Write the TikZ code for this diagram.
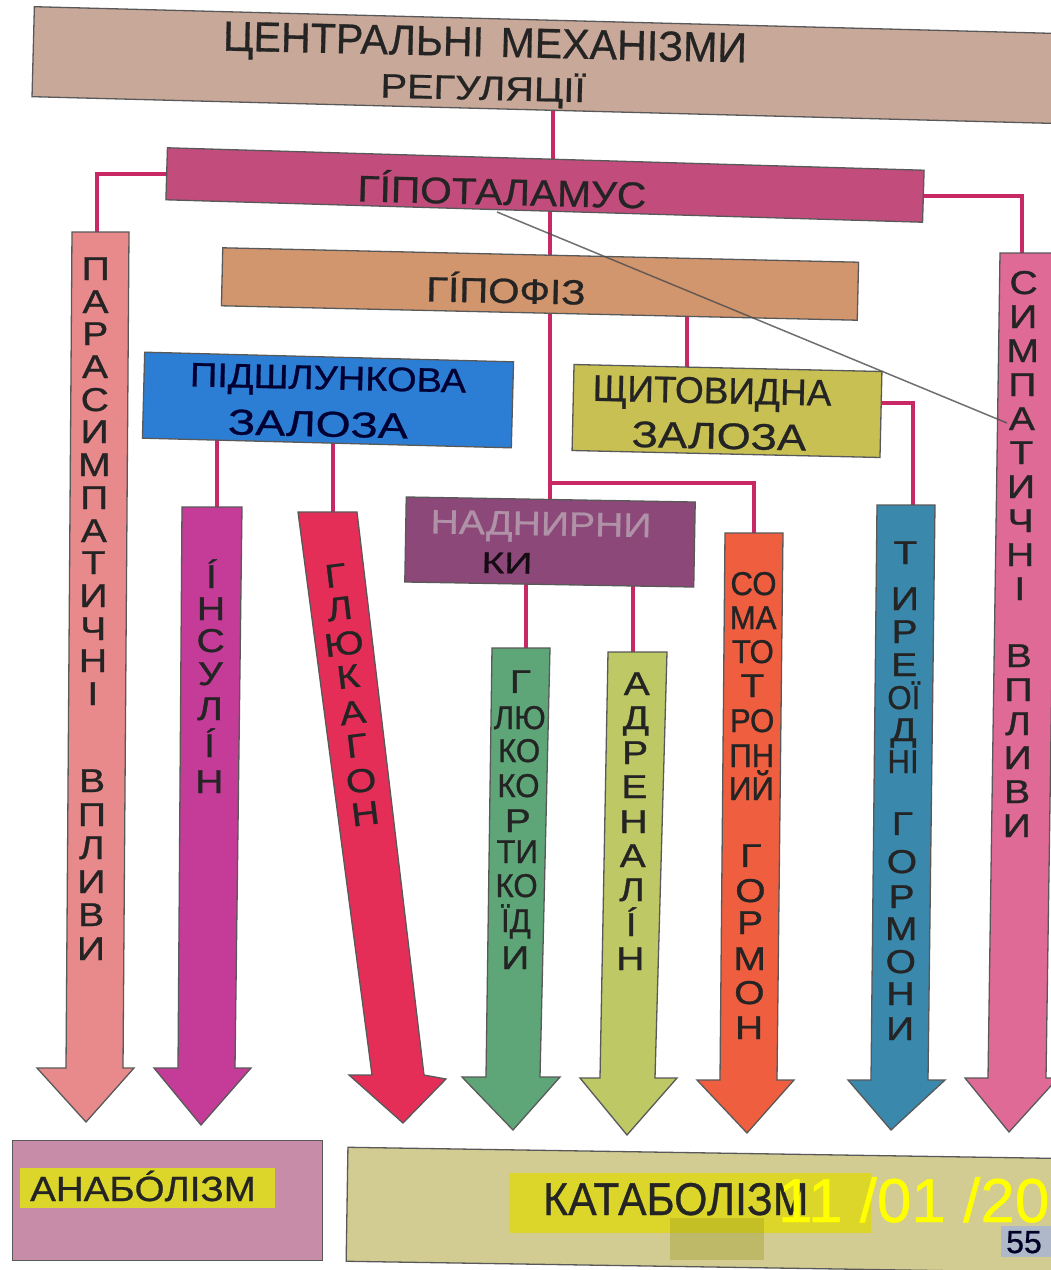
\documentclass[tikz,border=0pt]{standalone}
\usepackage{fontspec}
\usepackage{graphicx}
\setmainfont{Liberation Sans}[FakeBold=0.7]
\newfontfamily\lf{Liberation Sans}[FakeBold=0.9]
\pgfdeclarelayer{bg}
\pgfdeclarelayer{lines}
\pgfsetlayers{bg,lines,main}
\newcommand\sx[2]{\scalebox{#1}[1]{#2}}
\newcommand\pr[1]{\scalebox{0.8}[1]{#1}}
\definecolor{ink}{HTML}{242424}
\definecolor{topc}{HTML}{C8A898}
\definecolor{hypc}{HTML}{C24C7C}
\definecolor{hypoc}{HTML}{D2966E}
\definecolor{pancc}{HTML}{2B7ED4}
\definecolor{thygc}{HTML}{C8C052}
\definecolor{adrc}{HTML}{8C4878}
\definecolor{parac}{HTML}{E88A8C}
\definecolor{insc}{HTML}{C43C98}
\definecolor{glucc}{HTML}{E42E58}
\definecolor{gcc}{HTML}{5EA678}
\definecolor{adrac}{HTML}{BEC864}
\definecolor{somac}{HTML}{F05E40}
\definecolor{thyhc}{HTML}{3A88AC}
\definecolor{sympc}{HTML}{E06A96}
\definecolor{anabc}{HTML}{C68CA8}
\definecolor{catc}{HTML}{D2CC92}
\definecolor{conncol}{HTML}{C82864}
\definecolor{hlc}{HTML}{DCD62A}
\definecolor{datec}{HTML}{FFFF00}
\definecolor{tagc}{HTML}{AEB8C8}
\begin{document}
\begin{tikzpicture}[x=1pt,y=-1pt,
  box/.style={draw=black!65, line width=1.3pt, inner sep=0pt},
  conn/.style={draw=conncol, line width=4pt},
  arr/.style={draw=black!65, line width=1.3pt, line join=miter},
  lt/.style={font=\lf\fontsize{33}{33}\selectfont, inner sep=0pt, text height=24pt, text depth=0pt, text=ink},
  lab/.style={inner sep=0pt, text=ink},
  stray/.style={draw=black!70, line width=1.5pt, opacity=0.8}]
\useasboundingbox (0,0) rectangle (1051,1270);
\begin{pgfonlayer}{bg}
  \fill[white] (0,0) rectangle (1051,1270);
\end{pgfonlayer}

% ---------- boxes ----------
\node[box, fill=topc, minimum width=1056, minimum height=90, rotate=-1.5] (top) at (561,65.5) {};
\node[lab, rotate=-1.3, font=\fontsize{42}{42}\selectfont] (t1) at (485,46) {\sx{0.98}{ЦЕНТРАЛЬНІ\hspace{0.4em}МЕХАНІЗМИ}};
\node[lab, rotate=-1.3, font=\fontsize{34}{34}\selectfont] (t2) at (483,89) {\sx{1.17}{РЕГУЛЯЦІЇ}};

\node[box, fill=hypc, minimum width=757, minimum height=52, rotate=-1.7] (hyp) at (545,185) {};
\node[lab, rotate=-1.4, font=\fontsize{37}{37}\selectfont] (hypt) at (502,189) {\sx{1.1}{ГÍПОТАЛАМУС}};

\node[box, fill=hypoc, minimum width=636, minimum height=58, rotate=-1.3] (hypo) at (540,284) {};
\node[lab, rotate=-1.2, font=\fontsize{35}{35}\selectfont] (hypot) at (506,288) {\sx{1.15}{ГÍПОФІЗ}};

\node[box, fill=pancc, minimum width=369, minimum height=86, rotate=-1.5] (panc) at (328,400) {};
\node[lab, text=black!80!blue, rotate=-1.3, font=\fontsize{34}{34}\selectfont] (panct1) at (328,381) {\sx{1.12}{ПІДШЛУНКОВА}};
\node[lab, text=black!80!blue, rotate=-1.3, font=\fontsize{36}{36}\selectfont] (panct2) at (318,424) {\sx{1.25}{ЗАЛОЗА}};

\node[box, fill=thygc, minimum width=308, minimum height=86, rotate=-1.3] (thyg) at (727,411) {};
\node[lab, rotate=-1.2, font=\fontsize{37}{37}\selectfont] (thygt1) at (712,394) {\sx{1.0}{ЩИТОВИДНА}};
\node[lab, rotate=-1.2, font=\fontsize{37}{37}\selectfont] (thygt2) at (719,436) {\sx{1.18}{ЗАЛОЗА}};

\node[box, fill=adrc, minimum width=289, minimum height=85, rotate=-1] (adrb) at (550,542) {};
\node[lab, text=black!20!adrc!55!white, rotate=-1, font=\fontsize{34}{34}\selectfont] (adrt1) at (541,527) {\sx{1.15}{НАДНИРНИ}};
\node[lab, text=black!85!adrc, rotate=-1, font=\fontsize{30}{30}\selectfont] (adrt2) at (507,563) {\sx{1.3}{КИ}};

% ---------- arrows ----------
\filldraw[arr, fill=parac] (72,232) -- (129,232) -- (123,1068) -- (134,1068) -- (86,1122) -- (37,1068) -- (66,1068) -- cycle;
\filldraw[arr, fill=insc] (182,507) -- (242,507) -- (235,1068) -- (251,1068) -- (201,1125) -- (154,1068) -- (178,1068) -- cycle;
\filldraw[arr, fill=glucc] (298,512) -- (357,512) -- (424,1075) -- (446,1079) -- (403,1123) -- (349,1075) -- (372,1075) -- cycle;
\filldraw[arr, fill=gcc] (492,648) -- (550,648) -- (540,1077) -- (560,1077) -- (513,1130) -- (462,1077) -- (486,1077) -- cycle;
\filldraw[arr, fill=adrac] (608,652) -- (667,652) -- (655,1078) -- (677,1078) -- (627,1135) -- (580,1078) -- (600,1078) -- cycle;
\filldraw[arr, fill=somac] (725,533) -- (783,533) -- (777,1080) -- (794,1080) -- (747,1133) -- (697,1080) -- (720,1080) -- cycle;
\filldraw[arr, fill=thyhc] (877,505) -- (935,505) -- (928,1080) -- (945,1080) -- (891,1130) -- (848,1080) -- (871,1080) -- cycle;
\filldraw[arr, fill=sympc] (1000,253) -- (1058,253) -- (1046,1078) -- (1058,1078) -- (1009,1132) -- (965,1078) -- (988,1078) -- cycle;

\coordinate (paraT) at (97,238);
\coordinate (sympT) at (1022,259);
\coordinate (insT) at (217,512);
\coordinate (glucT) at (333,517);
\coordinate (gcT) at (526,653);
\coordinate (adrT) at (633,657);
\coordinate (somaT) at (754,538);
\coordinate (thyhT) at (913,510);
\coordinate (x553) at (553,0);
\coordinate (x550) at (550,0);
\coordinate (x687) at (687,0);
\coordinate (jn) at (550,483);
\coordinate (thygR) at (860,403);

% ---------- connectors ----------
\begin{pgfonlayer}{lines}
  \draw[conn] (x553 |- top.center) -- (x553 |- hyp.center);
  \draw[conn] ([xshift=20]hyp.west) -| (paraT);
  \draw[conn] ([xshift=-20]hyp.east) -| (sympT);
  \draw[conn] (x550 |- hyp.center) -- (x550 |- hypo.center);
  \draw[conn] (x550 |- hypo.center) -- (x550 |- adrb.center);
  \draw[conn] (jn) -| (somaT);
  \draw[conn] (x687 |- hypo.center) -- (x687 |- thyg.center);
  \draw[conn] (thygR) -| (thyhT);
  \draw[conn] (insT |- panc.center) -- (insT);
  \draw[conn] (glucT |- panc.center) -- (glucT);
  \draw[conn] (gcT |- adrb.center) -- (gcT);
  \draw[conn] (adrT |- adrb.center) -- (adrT);
\end{pgfonlayer}

% ---------- stray line ----------
\draw[stray] (497,212) -- (1007,423);

% ---------- column letters ----------
\foreach \t/\yy [count=\i] in {П/268,А/301,Р/333,А/366,С/399,И/431,М/464,П/497,А/530,Т/562,И/595,Ч/628,Н/660,І/693,В/780,П/814,Л/847,И/881,В/914,И/948}
  {\pgfmathsetmacro\xx{96-0.007*(\yy-232)}\node[lt] (pa\i) at (\xx,\yy) {\sx{1.18}{\t}};}
\foreach \t/\yy [count=\i] in {Í/576,Н/608,С/640,У/673,Л/708,Í/745,Н/781}
  {\pgfmathsetmacro\xx{212-0.0098*(\yy-507)}\node[lt] (in\i) at (\xx,\yy) {\sx{1.18}{\t}};}
\foreach \t/\yy [count=\i] in {Г/575,Л/608,Ю/643,К/676,А/712,Г/745,О/780,Н/813}
  {\pgfmathsetmacro\xx{327.5+0.1252*(\yy-512)}\node[lt, rotate=7] (gl\i) at (\xx,\yy) {\sx{1.18}{\t}};}
\foreach \t/\yy [count=\i] in {Г/681,\pr{ЛЮ}/717,\pr{КО}/750,\pr{КО}/785,Р/820,\pr{ТИ}/851,\pr{КО}/885,\pr{ЇД}/920,И/957}
  {\pgfmathsetmacro\xx{521-0.0186*(\yy-648)}\node[lt] (gc\i) at (\xx,\yy) {\sx{1.18}{\t}};}
\foreach \t/\yy [count=\i] in {А/683,Д/717,Р/752,Е/786,Н/821,А/855,Л/889,Í/924,Н/958}
  {\pgfmathsetmacro\xx{637.5-0.0235*(\yy-652)}\node[lt] (ad\i) at (\xx,\yy) {\sx{1.18}{\t}};}
\foreach \t/\yy [count=\i] in {\pr{СО}/583,\pr{МА}/617,\pr{ТО}/651,Т/685,\pr{РО}/720,\pr{ПН}/755,\pr{ИЙ}/788,Г/855,О/890,Р/922,М/958,О/992,Н/1027}
  {\pgfmathsetmacro\xx{754-0.01*(\yy-533)}\node[lt] (so\i) at (\xx,\yy) {\sx{1.18}{\t}};}
\foreach \t/\yy [count=\i] in {Т/552,И/598,Р/631,Е/664,\pr{ОЇ}/697,Д/729,\pr{НІ}/761,Г/823,О/861,Р/896,М/928,О/961,Н/993,И/1028}
  {\pgfmathsetmacro\xx{906-0.0113*(\yy-505)}\node[lt] (th\i) at (\xx,\yy) {\sx{1.18}{\t}};}
\foreach \t/\yy [count=\i] in {С/282,И/316,М/350,П/384,А/418,Т/452,И/486,Ч/520,Н/554,І/588,В/655,П/689,Л/723,И/757,В/791,И/825}
  {\pgfmathsetmacro\xx{1024-0.0127*(\yy-253)}\node[lt] (sy\i) at (\xx,\yy) {\sx{1.18}{\t}};}

% ---------- bottom boxes ----------
\node[box, fill=anabc, minimum width=310, minimum height=120, anchor=north west] (anab) at (12,1140) {};
\fill[hlc] (20,1168) rectangle (275,1208);
\node[lab, anchor=base west, font=\fontsize{35}{35}\selectfont] (anabt) at (30,1201) {\sx{1.1}{АНАБÓЛІЗМ}};

\node[box, fill=catc, minimum width=730, minimum height=114, rotate=-0.9] (cat) at (712,1210) {};
\fill[hlc] (509,1173) rectangle (871,1233);
\fill[hlc!70!black, opacity=0.35] (670,1218) rectangle (764,1260);
\node[lab, anchor=base west, font=\fontsize{46}{46}\selectfont] (catt) at (543,1215) {\sx{0.93}{КАТАБОЛІЗМ}};
\node[anchor=base west, inner sep=0pt, text=datec, font=\fontsize{62}{62}\selectfont] (date) at (778,1222) {11 /01 /20};
\fill[tagc] (1001,1226) rectangle (1051,1257);
\node[lab, anchor=base west, text=black!85!blue, font=\fontsize{32}{32}\selectfont] (pg) at (1006,1253) {55};
\end{tikzpicture}
\end{document}
